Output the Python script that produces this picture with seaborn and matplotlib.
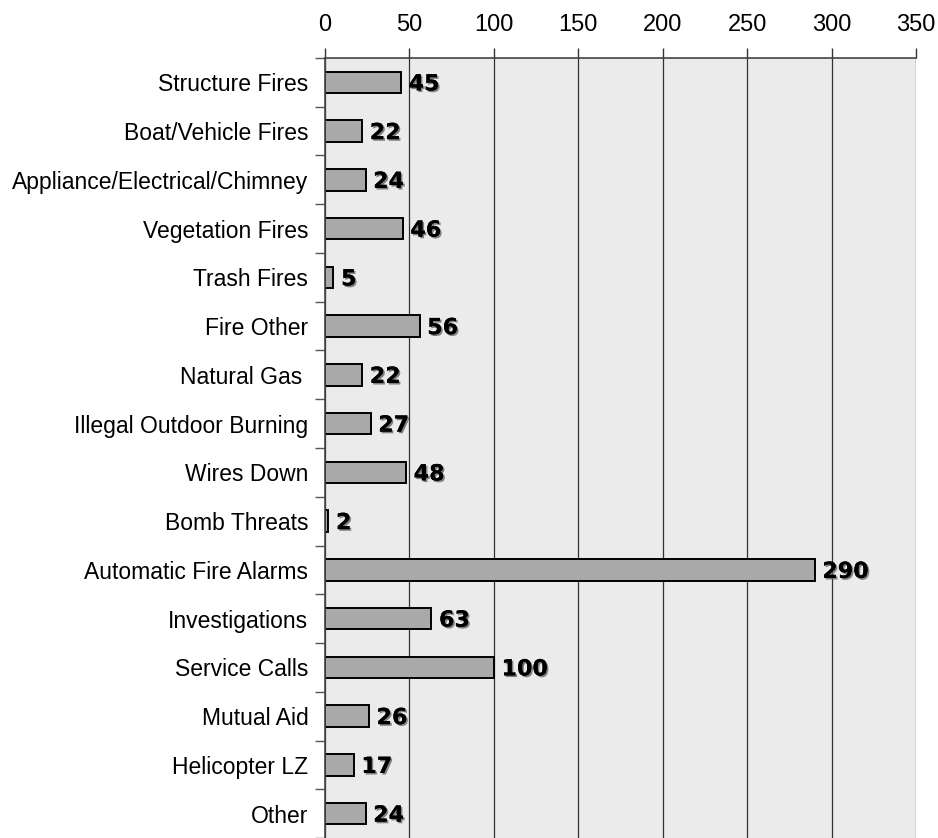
import matplotlib
matplotlib.use("Agg")
import matplotlib.pyplot as plt
import matplotlib.patheffects as pe
import seaborn as sns
import pandas as pd
import numpy as np

categories = ["Structure Fires", "Boat/Vehicle Fires", "Appliance/Electrical/Chimney",
              "Vegetation Fires", "Trash Fires", "Fire Other", "Natural Gas ",
              "Illegal Outdoor Burning", "Wires Down", "Bomb Threats",
              "Automatic Fire Alarms", "Investigations", "Service Calls",
              "Mutual Aid", "Helicopter LZ", "Other"]
values = [45, 22, 24, 46, 5, 56, 22, 27, 48, 2, 290, 63, 100, 26, 17, 24]
xticks = [0, 50, 100, 150, 200, 250, 300, 350]

sns.set_theme(style="white")
plt.rcParams['font.family'] = ['Liberation Sans', 'DejaVu Sans']

df = pd.DataFrame({"cat": categories, "val": values})

fig = plt.figure(figsize=(9.38, 8.38), dpi=100)
fig.patch.set_facecolor("white")
ax = fig.add_axes([325/938, 0, (916-325)/938, 1 - 58/838])
ax.set_facecolor("#ebebeb")

sns.barplot(data=df, x="val", y="cat", orient="h", color="#a9a9a9",
            edgecolor="black", linewidth=1.4, width=0.44, saturation=1, ax=ax)

ax.set_xlim(0, 350)
n = len(categories)
ax.set_ylim(n - 0.5 - 4/49, -0.5)
ax.set_xticks(xticks)
ax.xaxis.tick_top()
ax.tick_params(axis="x", top=True, bottom=False, length=7, width=1, color="#333333",
               labelsize=17, pad=9, labelcolor="black")
ax.set_yticks(np.arange(n))
ax.set_yticklabels(categories)
ax.tick_params(axis="y", left=False, labelsize=16.5, pad=6, labelcolor="black")
ax.set_yticks(np.arange(n + 1) - 0.5, minor=True)
ax.tick_params(axis="y", which="minor", left=True, length=7, width=1, color="#555555")
ax.set_xlabel("")
ax.set_ylabel("")

ax.grid(axis="x", color="#333333", linewidth=0.9)
ax.set_axisbelow(True)
for s in ["bottom", "right"]:
    ax.spines[s].set_visible(False)
ax.spines["top"].set_color("#444444")
ax.spines["left"].set_color("#444444")
ax.spines["top"].set_linewidth(1.2)
ax.spines["left"].set_linewidth(1.2)

for i, v in enumerate(values):
    ax.text(v + 4.5, i, str(v), va="center_baseline", ha="left", fontsize=16,
            fontweight="heavy", family=["DejaVu Sans"], color="black",
            path_effects=[pe.withSimplePatchShadow(offset=(1.2, -1.2), shadow_rgbFace="#666666", alpha=0.8),
                          pe.Normal()])

fig.savefig("out.png", dpi=100)
